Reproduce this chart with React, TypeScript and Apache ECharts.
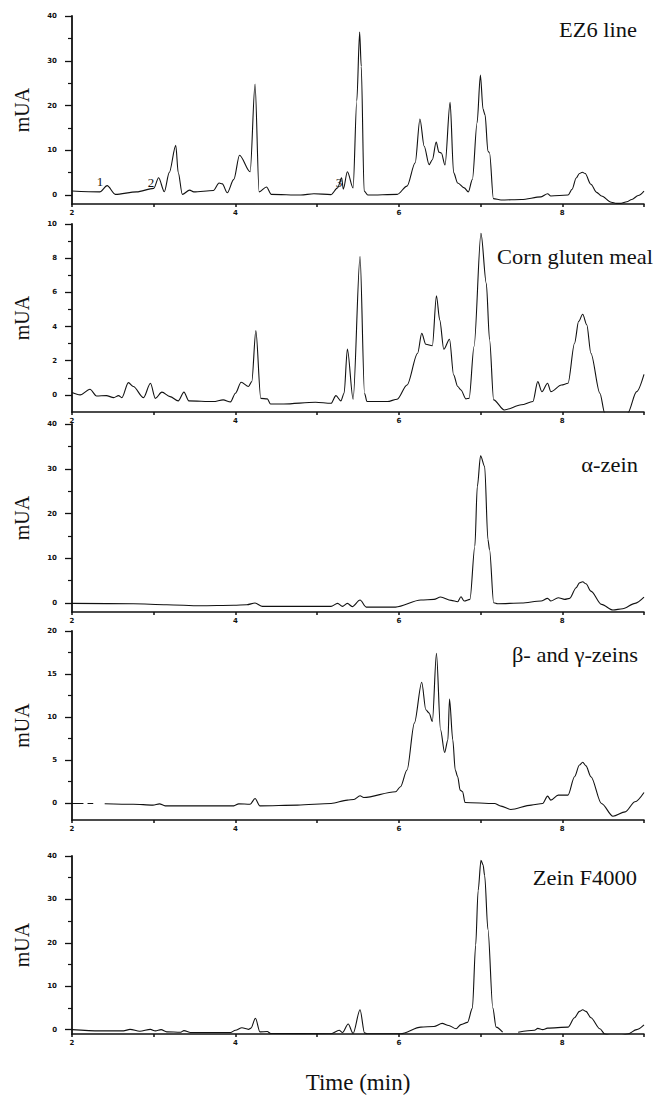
import React, { useEffect, useRef } from "react";
import * as echarts from "echarts";

// ---- Data (time in min, absorbance in mUA) ----
const panelTitles = ["EZ6 line", "Corn gluten meal", "α-zein", "β- and γ-zeins", "Zein F4000"];
const xTickLabels = [2, 4, 6, 8];
const peakNumbers = ["1", "2", "3"];

const ez6Time = [2.0, 2.34, 2.43, 2.53, 2.79, 3.0, 3.06, 3.13, 3.19, 3.27, 3.30, 3.35, 3.44, 3.49, 3.73, 3.80, 3.84, 3.90, 3.98, 4.05, 4.18, 4.24, 4.29, 4.38, 4.44, 4.80, 4.96, 5.17, 5.25, 5.30, 5.32, 5.37, 5.44, 5.485, 5.52, 5.54, 5.575, 5.62, 5.98, 6.10, 6.20, 6.258, 6.31, 6.37, 6.41, 6.457, 6.49, 6.52, 6.565, 6.627, 6.67, 6.72, 6.80, 6.85, 6.90, 6.957, 6.998, 7.03, 7.055, 7.09, 7.11, 7.157, 7.25, 7.50, 7.74, 7.82, 7.86, 8.07, 8.12, 8.17, 8.21, 8.245, 8.28, 8.35, 8.42, 8.48, 8.60, 8.66, 8.72, 8.79, 8.85, 8.93, 9.0];
const ez6Values = [0.9, 0.7, 2.1, 0.15, 0.7, 1.5, 3.85, 0.75, 5.0, 11.1, 5.0, 0.15, 1.1, 0.7, 1.0, 2.7, 2.5, 0.5, 3.5, 8.9, 5.2, 24.8, 0.7, 1.8, 0.15, 0, 0.3, 0.1, 1.6, 3.85, 1.3, 5.2, 1.6, 21, 36.4, 28.7, 0.9, 0, 0.15, 2, 7.2, 17.0, 10.9, 6.8, 7.9, 11.85, 9.6, 9.4, 6.7, 20.7, 5.0, 2.7, 1.6, 0.7, 3.5, 16.1, 26.8, 19.2, 17.9, 9.8, 9.4, -0.8, -1.1, -1.0, -0.4, 0.3, -0.2, 0, 1.3, 3.8, 4.8, 5.1, 4.8, 2.4, 0.6, -0.2, -1.6, -1.85, -1.85, -1.5, -1.0, -0.1, 0.9];

const cornTime = [2.0, 2.1, 2.22, 2.30, 2.42, 2.51, 2.57, 2.61, 2.69, 2.75, 2.875, 2.96, 3.02, 3.10, 3.20, 3.30, 3.37, 3.43, 3.73, 3.85, 3.94, 4.0, 4.07, 4.16, 4.20, 4.25, 4.31, 4.39, 4.43, 4.59, 4.98, 5.17, 5.23, 5.29, 5.33, 5.37, 5.44, 5.525, 5.58, 5.61, 5.86, 5.98, 6.10, 6.23, 6.28, 6.33, 6.41, 6.46, 6.50, 6.55, 6.62, 6.67, 6.72, 6.76, 6.82, 6.86, 6.92, 7.005, 7.07, 7.11, 7.16, 7.29, 7.50, 7.64, 7.70, 7.75, 7.82, 7.86, 7.99, 8.07, 8.15, 8.20, 8.25, 8.30, 8.35, 8.46, 8.52, 8.64, 8.80, 8.91, 9.0];
const cornValues = [0.14, 0, 0.33, -0.06, -0.04, -0.16, -0.04, -0.16, 0.72, 0.49, -0.16, 0.68, -0.2, 0.16, -0.1, -0.35, 0.16, -0.35, -0.39, -0.29, -0.41, 0.1, 0.74, 0.49, 0.78, 3.76, -0.2, -0.23, -0.53, -0.53, -0.43, -0.49, -0.04, -0.35, 0.1, 2.69, -0.25, 8.09, 0.1, -0.39, -0.39, -0.25, 0.58, 2.44, 3.6, 2.96, 2.88, 5.8, 4.39, 2.67, 3.26, 1.17, 0.49, 0.29, -0.23, -0.2, 2.83, 9.45, 6.53, 3.22, -0.29, -0.88, -0.58, -0.39, 0.78, 0.19, 0.68, 0.19, 0.58, 0.68, 3.02, 4.3, 4.72, 4.1, 2.44, 0.1, -1.07, -2.24, -1.07, 0.19, 1.2];

const alphaTime = [2.0, 2.75, 3.16, 3.57, 3.98, 4.14, 4.24, 4.33, 4.80, 5.17, 5.25, 5.31, 5.37, 5.43, 5.525, 5.60, 5.96, 6.27, 6.43, 6.51, 6.64, 6.72, 6.76, 6.80, 6.87, 6.93, 6.96, 7.0, 7.05, 7.09, 7.11, 7.16, 7.21, 7.50, 7.74, 7.82, 7.86, 7.95, 8.03, 8.09, 8.17, 8.21, 8.25, 8.29, 8.35, 8.48, 8.62, 8.74, 8.89, 9.0];
const alphaValues = [-0.07, -0.15, -0.37, -0.6, -0.5, -0.37, 0, -0.74, -0.74, -0.74, -0.07, -0.74, -0.07, -0.8, 0.67, -0.9, -0.9, 0.67, 0.82, 1.34, 0.6, 0.3, 1.41, 0.45, 0.82, 12.7, 26.0, 32.9, 30.5, 14.2, 11.9, 0.07, -0.15, 0, 0.45, 1.04, 0.45, 1.19, 0.82, 1.04, 3.41, 4.5, 4.75, 4.3, 2.67, -0.3, -1.56, -1.26, -0.07, 1.3];

const betaTime = [2.0, 2.14, 2.15, 2.19, 2.26, 2.3, 2.40, 2.75, 2.99, 3.07, 3.14, 3.98, 4.04, 4.18, 4.24, 4.30, 4.76, 5.17, 5.37, 5.45, 5.525, 5.57, 5.96, 6.02, 6.10, 6.19, 6.28, 6.33, 6.37, 6.41, 6.46, 6.51, 6.56, 6.60, 6.62, 6.66, 6.69, 6.72, 6.75, 6.78, 6.81, 7.17, 7.25, 7.37, 7.62, 7.76, 7.82, 7.86, 7.95, 8.07, 8.15, 8.21, 8.25, 8.29, 8.35, 8.48, 8.62, 8.77, 8.89, 9.0];
const betaValues = [-0.08, -0.08, "-", -0.08, -0.08, "-", -0.1, -0.16, -0.27, -0.12, -0.35, -0.35, -0.12, -0.16, 0.5, -0.35, -0.27, -0.08, 0.31, 0.39, 0.82, 0.62, 1.29, 1.87, 3.82, 9.28, 14.04, 10.84, 10.45, 9.47, 17.39, 8.5, 5.85, 7.33, 12.09, 7.33, 3.82, 3.04, 1.48, 1.29, 0.04, -0.08, -0.39, -0.78, -0.27, -0.08, 0.78, 0.31, 0.9, 0.9, 3.04, 4.4, 4.72, 4.3, 3.04, -0.08, -1.56, -1.05, 0.12, 1.2];

const f4000Time = [2.0, 2.34, 2.63, 2.71, 2.83, 2.96, 3.02, 3.09, 3.16, 3.33, 3.37, 3.45, 3.94, 4.0, 4.08, 4.16, 4.19, 4.245, 4.30, 4.39, 4.43, 5.17, 5.27, 5.31, 5.38, 5.44, 5.525, 5.58, 5.61, 6.02, 6.27, 6.43, 6.53, 6.61, 6.70, 6.76, 6.84, 6.90, 6.94, 6.97, 7.005, 7.03, 7.05, 7.09, 7.15, 7.19, 7.27, 7.35, 7.46, 7.66, 7.70, 7.76, 7.82, 8.07, 8.15, 8.21, 8.25, 8.29, 8.35, 8.46, 8.52, 8.65, 8.80, 8.91, 9.0];
const f4000Values = [0, -0.29, -0.29, 0.07, -0.36, 0.07, -0.29, 0, -0.5, -0.58, -0.22, -0.65, -0.65, -0.15, 0.44, 0.07, 0.36, 2.62, -0.5, -0.44, -0.87, -0.95, -0.15, -0.65, 1.31, -0.87, 4.58, -0.73, -0.95, -0.95, 0.58, 0.73, 1.45, 0.95, 0.22, 1.16, 1.67, 4.95, 19.5, 32, 39.0, 38, 35.5, 23.1, 4.95, 0.58, -0.58, "-", -0.58, -0.15, 0.29, 0, 0.36, 0.58, 2.76, 4.2, 4.58, 4.2, 2.76, 0.22, -1.0, -1.8, -1.0, 0, 1.1];

const seriesTimes = [ez6Time, cornTime, alphaTime, betaTime, f4000Time];
const seriesValues = [ez6Values, cornValues, alphaValues, betaValues, f4000Values];

const yMins = [-2, -1, -2, -2, -1];
const yMaxs = [40, 10, 40, 20, 40];
const yMajorTicks = [
  [0, 10, 20, 30, 40],
  [0, 2, 4, 6, 8, 10],
  [0, 10, 20, 30, 40],
  [0, 5, 10, 15, 20],
  [0, 10, 20, 30, 40],
];
const yMinorTicks = [
  [5, 15, 25, 35],
  [1, 3, 5, 7, 9],
  [5, 15, 25, 35],
  [2.5, 7.5, 12.5, 17.5],
  [5, 15, 25, 35],
];

// ---- Layout ----
const gridTops = [16, 224, 424, 631, 856];
const gridHeights = [188, 188, 188, 189, 188];
const GRID_LEFT = 72;
const GRID_RIGHT = 13;
const titleYs = [30, 257, 465, 655, 878];
const titleRights = [637, 653, 638, 638, 637];

const SERIF = "Liberation Serif, Times New Roman, serif";
const SANS = "DejaVu Sans, Arial, sans-serif";
const INK = "#111";

export default function App() {
  const ref = useRef<HTMLDivElement>(null);

  useEffect(() => {
    if (!ref.current) return;
    const chart = echarts.init(ref.current, null, { renderer: "svg" });

    const grid: any[] = [];
    const xAxis: any[] = [];
    const yAxis: any[] = [];
    const series: any[] = [];

    for (let i = 0; i < 5; i++) {
      grid.push({ left: GRID_LEFT, right: GRID_RIGHT, top: gridTops[i], height: gridHeights[i], containLabel: false });
      xAxis.push({
        type: "value",
        gridIndex: i,
        min: 2,
        max: 9,
        interval: 1,
        axisLine: { show: true, onZero: false, lineStyle: { color: INK, width: 1.5 } },
        axisTick: { show: true, length: 3, lineStyle: { color: INK, width: 1.5 } },
        axisLabel: {
          show: true,
          margin: 5,
          fontSize: 7,
          fontWeight: "bold",
          fontFamily: SANS,
          color: INK,
          formatter: (v: number) => (xTickLabels.indexOf(v) >= 0 ? String(v) : ""),
        },
        splitLine: { show: false },
        ...(i === 4
          ? {
              name: "Time (min)",
              nameLocation: "middle",
              nameGap: 37,
              nameTextStyle: { fontFamily: SERIF, fontSize: 23, color: INK },
            }
          : {}),
      });
      yAxis.push({
        type: "value",
        gridIndex: i,
        position: "left",
        min: yMins[i],
        max: yMaxs[i],
        axisLine: { show: true, onZero: false, lineStyle: { color: INK, width: 1.8 } },
        axisTick: { show: true, length: 7, customValues: yMajorTicks[i], lineStyle: { color: INK, width: 1.3 } },
        axisLabel: {
          show: true,
          customValues: yMajorTicks[i],
          margin: 15,
          fontSize: 7,
          fontWeight: "bold",
          fontFamily: SANS,
          color: INK,
        },
        splitLine: { show: false },
        name: "mUA",
        nameLocation: "middle",
        nameGap: 40,
        nameTextStyle: { fontFamily: SERIF, fontSize: 20, color: INK },
      });
      yAxis.push({
        type: "value",
        gridIndex: i,
        position: "left",
        offset: 0,
        min: yMins[i],
        max: yMaxs[i],
        axisLine: { show: false, onZero: false },
        axisTick: { show: true, length: 4, customValues: yMinorTicks[i], lineStyle: { color: INK, width: 1.2 } },
        axisLabel: { show: false },
        splitLine: { show: false },
      });
      const t = seriesTimes[i];
      const v = seriesValues[i];
      series.push({
        type: "line",
        name: panelTitles[i],
        xAxisIndex: i,
        yAxisIndex: i * 2,
        data: t.map((x, k) => [x, v[k]]),
        showSymbol: false,
        symbol: "none",
        smooth: 0.3,
        smoothMonotone: "x",
        connectNulls: false,
        clip: true,
        lineStyle: { color: INK, width: 1.1 },
      });
    }

    const graphic: any[] = panelTitles.map((title, i) => ({
      type: "text",
      x: titleRights[i],
      y: titleYs[i],
      scaleX: 1.07,
      style: {
        text: title,
        fill: INK,
        font: `21px ${SERIF}`,
        textAlign: "right",
        textVerticalAlign: "middle",
      },
    }));
    const peakPos = [
      [100, 181],
      [151, 182],
      [339, 182],
    ];
    peakNumbers.forEach((n, k) => {
      graphic.push({
        type: "text",
        x: peakPos[k][0],
        y: peakPos[k][1],
        style: { text: n, fill: INK, font: `13px ${SERIF}`, textAlign: "center", textVerticalAlign: "middle" },
      });
    });

    chart.setOption({
      animation: false,
      backgroundColor: "#fff",
      grid,
      xAxis,
      yAxis,
      series,
      graphic,
    });

    return () => chart.dispose();
  }, []);

  return (
    <div
      ref={ref}
      style={{ position: "absolute", left: 0, top: 0, width: 657, height: 1095, background: "#fff" }}
    />
  );
}
